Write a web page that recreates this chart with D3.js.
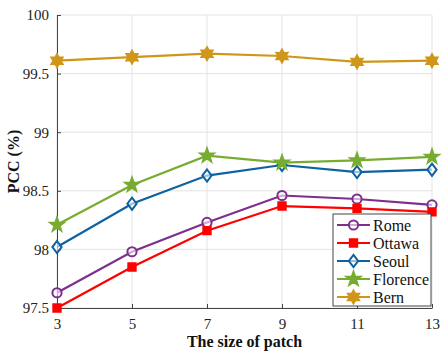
<!DOCTYPE html>
<html><head><meta charset="utf-8">
<script src="https://cdn.jsdelivr.net/npm/d3@7"></script>
<style>body{margin:0;background:#fff}svg{display:block}svg text{font-family:'Liberation Serif','Times New Roman',serif !important}</style>
</head><body><div id="c"></div>
<script>
const patchSizes = [3, 5, 7, 9, 11, 13];
const seriesNames = ["Rome", "Ottawa", "Seoul", "Florence", "Bern"];
const rome     = [97.63, 97.98, 98.23, 98.46, 98.43, 98.38];
const ottawa   = [97.50, 97.85, 98.16, 98.37, 98.35, 98.32];
const seoul    = [98.02, 98.39, 98.63, 98.72, 98.66, 98.68];
const florence = [98.21, 98.55, 98.80, 98.74, 98.76, 98.79];
const bern     = [99.61, 99.64, 99.67, 99.65, 99.60, 99.61];
const yTicks = [97.5, 98, 98.5, 99, 99.5, 100];
const xTicks = [3, 5, 7, 9, 11, 13];

const colors = ["#7E2F8E", "#FF0000", "#0F62A0", "#77AC30", "#D0961A"];
const markers = ["circle", "square", "diamond", "star", "hexagram"];
const values = [rome, ottawa, seoul, florence, bern];
const FONT = "'Liberation Serif', 'Times New Roman', serif";

const W = 443, H = 360;
const m = {l: 57, r: 11, t: 15, b: 52};
const svg = d3.select("#c").append("svg").attr("width", W).attr("height", H)
  .attr("font-family", FONT);
const x = d3.scaleLinear().domain([3, 13]).range([m.l, W - m.r]);
const y = d3.scaleLinear().domain([97.5, 100]).range([H - m.b, m.t]);

// grid
const g = svg.append("g");
g.selectAll(".gx").data(xTicks).join("line")
  .attr("x1", d => x(d)).attr("x2", d => x(d)).attr("y1", y(97.5)).attr("y2", y(100))
  .attr("stroke", "#e3e3e3").attr("stroke-width", 1);
g.selectAll(".gy").data(yTicks).join("line")
  .attr("x1", x(3)).attr("x2", x(13)).attr("y1", d => y(d)).attr("y2", d => y(d))
  .attr("stroke", "#e3e3e3").attr("stroke-width", 1);

// axes
const xAxis = d3.axisBottom(x).tickValues(xTicks).tickSizeInner(-4).tickSizeOuter(0).tickPadding(8);
const yAxis = d3.axisLeft(y).tickValues(yTicks).tickSizeInner(-4).tickSizeOuter(0).tickPadding(8)
  .tickFormat(d => d3.format("")(d));
const gx = svg.append("g").attr("transform", `translate(0,${y(97.5)})`).call(xAxis);
const gy = svg.append("g").attr("transform", `translate(${x(3)},0)`).call(yAxis);
[gx, gy].forEach(a => {
  a.attr("font-family", FONT).attr("font-size", 15);
  a.select(".domain").attr("stroke", "#444").attr("stroke-width", 1);
  a.selectAll(".tick line").attr("stroke", "#444");
  a.selectAll(".tick text").attr("font-size", 15).attr("fill", "#222");
});
gx.selectAll(".tick text").attr("dy", "0.85em");

// markers
function markerPath(type, s) {
  switch (type) {
    case "circle": return d3.symbol(d3.symbolCircle, s * s * 0.55)();
    case "square": return d3.symbol(d3.symbolSquare, s * s * 0.45)();
    case "diamond": {
      const a = s * 0.55, b = s * 0.42;
      return `M0,${-a}L${b},0L0,${a}L${-b},0Z`;
    }
    case "star": {
      let p = "";
      for (let i = 0; i < 10; i++) {
        const r = i % 2 ? s * 0.26 : s * 0.65;
        const ang = -Math.PI / 2 + i * Math.PI / 5;
        p += (i ? "L" : "M") + (r * Math.cos(ang)).toFixed(2) + "," + (r * Math.sin(ang)).toFixed(2);
      }
      return p + "Z";
    }
    case "hexagram": {
      let p = "";
      for (let i = 0; i < 12; i++) {
        const r = i % 2 ? s * 0.33 : s * 0.58;
        const ang = -Math.PI / 2 + i * Math.PI / 6;
        p += (i ? "L" : "M") + (r * Math.cos(ang)).toFixed(2) + "," + (r * Math.sin(ang)).toFixed(2);
      }
      return p + "Z";
    }
  }
}
function drawMarker(sel, type, color) {
  const filled = type === "square" || type === "star" || type === "hexagram";
  sel.append("path").attr("d", markerPath(type, 11))
    .attr("fill", filled ? color : "#fff").attr("fill-opacity", filled ? 1 : 0.6)
    .attr("stroke", color).attr("stroke-width", 2);
}

const line = d3.line().x((d, i) => x(patchSizes[i])).y(d => y(d));
values.forEach((vals, k) => {
  const s = svg.append("g");
  s.append("path").datum(vals).attr("d", line).attr("fill", "none")
    .attr("stroke", colors[k]).attr("stroke-width", 2.2);
  vals.forEach((v, i) => {
    const mg = s.append("g").attr("transform", `translate(${x(patchSizes[i])},${y(v)})`);
    drawMarker(mg, markers[k], colors[k]);
  });
});

// legend
const lg = svg.append("g").attr("transform", "translate(333,214)");
lg.append("rect").attr("x", 0).attr("y", 0).attr("width", 98).attr("height", 92)
  .attr("fill", "#fff").attr("stroke", "#444").attr("stroke-width", 1);
seriesNames.forEach((nm, k) => {
  const ry = 11 + k * 18;
  lg.append("line").attr("x1", 4).attr("x2", 37).attr("y1", ry).attr("y2", ry)
    .attr("stroke", colors[k]).attr("stroke-width", 2.2);
  const mg = lg.append("g").attr("transform", `translate(20.5,${ry})`);
  drawMarker(mg, markers[k], colors[k]);
  lg.append("text").attr("x", 40).attr("y", ry).attr("dy", "0.35em")
    .attr("font-size", 16).attr("fill", "#111").text(nm);
});

// axis labels
svg.append("text").attr("x", (x(3) + x(13)) / 2).attr("y", 347).attr("text-anchor", "middle")
  .attr("font-size", 16).attr("font-weight", "bold").attr("fill", "#111").text("The size of patch");
svg.append("text").attr("transform", `translate(19,${(y(97.5) + y(100)) / 2}) rotate(-90)`)
  .attr("text-anchor", "middle").attr("font-size", 16).attr("font-weight", "bold")
  .attr("fill", "#111").text("PCC (%)");
</script></body></html>
